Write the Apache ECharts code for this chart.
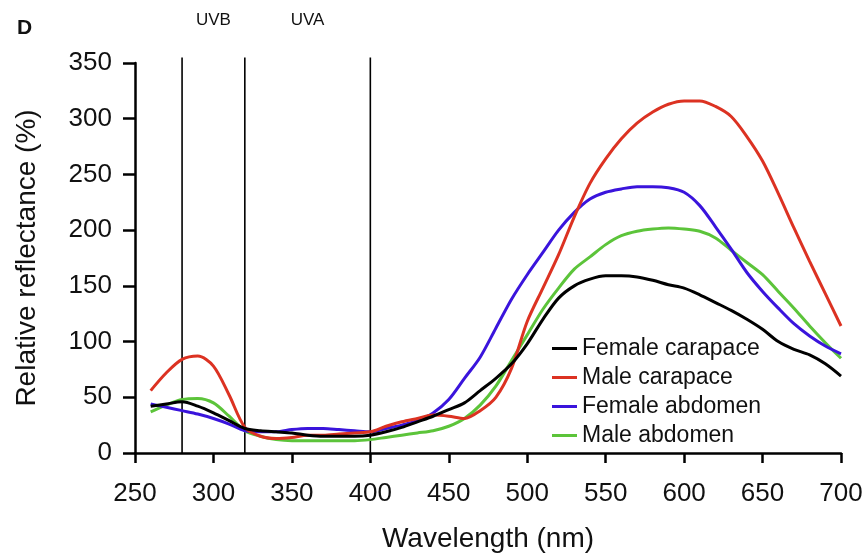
<!DOCTYPE html>
<html>
<head>
<meta charset="utf-8">
<script src="https://cdn.jsdelivr.net/npm/echarts@6/dist/echarts.min.js"></script>
<style>html,body{margin:0;padding:0;background:#fff;}#c{width:865px;height:553px;}</style>
</head>
<body>
<div id="c"></div>
<script>
const wavelengths = [260,270,280,290,300,310,320,330,340,350,360,370,380,390,400,410,420,430,440,450,460,470,480,490,500,510,520,530,540,550,560,570,580,590,600,610,620,630,640,650,660,670,680,690,700];
const femaleCarapace = [42,44,46,42,36,29,22,20,19,18,16,15,15,15,16,19,23,28,33,39,45,56,67,80,98,120,139,150,156,159,159,158,155,151,148,142,135,128,120,111,100,93,88,80,69];
const maleCarapace = [56,72,84,87,78,52,23,15,13,14,16,16,17,18,19,24,28,31,34,33,31,38,50,76,118,148,178,212,242,264,282,296,306,313,316,316,311,302,284,262,233,202,172,143,114];
const femaleAbdomen = [44,41,38,35,31,26,20,19,19,21,22,22,21,20,19,22,25,29,36,48,67,86,112,138,160,180,200,216,228,234,237,239,239,238,234,222,203,183,162,145,130,116,105,96,89];
const maleAbdomen = [37,43,48,49,45,33,20,15,12,11,11,11,11,11,12,14,16,18,20,24,31,43,60,83,106,129,148,165,176,187,195,199,201,202,201,199,193,182,171,160,145,130,114,99,85];
const seriesNames = ['Female carapace','Male carapace','Female abdomen','Male abdomen'];
const seriesColors = ['#000000','#dc3222','#3a14dc','#5cc43a'];
const uvBounds = [280,320,400];
const uvLabels = ['UVB','UVA'];
const xTicks = {min:250, max:700, interval:50};
const yTicks = {min:0, max:350, interval:50};
const lineTop = 355;

const allData = [femaleCarapace, maleCarapace, femaleAbdomen, maleAbdomen];
const font = '"Liberation Sans", Arial, Helvetica, sans-serif';

const chart = echarts.init(document.getElementById('c'));
const series = allData.map((vals, i) => ({
  name: seriesNames[i],
  type: 'line',
  data: wavelengths.map((w, j) => [w, vals[j]]),
  showSymbol: false,
  symbol: 'none',
  smooth: 0.3,
  clip: false,
  z: 3 + (4 - i),
  lineStyle: {color: seriesColors[i], width: 3},
  itemStyle: {color: seriesColors[i]}
}));
uvBounds.forEach(b => {
  series.push({
    type: 'line',
    data: [[b, yTicks.min], [b, lineTop]],
    showSymbol: false,
    symbol: 'none',
    clip: false,
    silent: true,
    z: 2,
    lineStyle: {color: '#000', width: 1.6}
  });
});

chart.setOption({
  animation: false,
  backgroundColor: '#fff',
  textStyle: {fontFamily: font},
  grid: {left: 135, right: 24, top: 63, bottom: 100, outerBoundsMode: 'none', containLabel: false},
  legend: {
    data: seriesNames,
    orient: 'vertical',
    left: 552,
    top: 337,
    padding: 0,
    icon: 'rect',
    itemWidth: 25,
    itemHeight: 3,
    itemGap: 6,
    textStyle: {fontSize: 23, color: '#111', fontFamily: font}
  },
  xAxis: {
    type: 'value',
    min: xTicks.min, max: xTicks.max, interval: xTicks.interval,
    name: 'Wavelength (nm)',
    nameLocation: 'middle',
    nameGap: 72,
    nameTextStyle: {fontSize: 28, color: '#111', fontFamily: font},
    axisLine: {show: true, lineStyle: {color: '#000', width: 2.5}},
    axisTick: {show: true, length: 10, lineStyle: {color: '#000', width: 2.5}},
    axisLabel: {fontSize: 26, color: '#111', margin: 28, fontFamily: font},
    splitLine: {show: false}
  },
  yAxis: {
    type: 'value',
    min: yTicks.min, max: yTicks.max, interval: yTicks.interval,
    name: 'Relative reflectance (%)',
    nameLocation: 'middle',
    nameGap: 94,
    nameRotate: 90,
    nameTextStyle: {fontSize: 28, color: '#111', fontFamily: font},
    axisLine: {show: true, lineStyle: {color: '#000', width: 2.5}},
    axisTick: {show: true, length: 12, lineStyle: {color: '#000', width: 2.5}},
    axisLabel: {fontSize: 26, color: '#111', margin: 23, fontFamily: font},
    splitLine: {show: false}
  },
  series: series
});

const mids = [(uvBounds[0] + uvBounds[1]) / 2, (uvBounds[1] + uvBounds[2]) / 2];
const gfx = [{
  type: 'text', x: 17, y: 18,
  style: {text: 'D', fontSize: 21, fontWeight: 'bold', fontFamily: font, fill: '#111'}
}];
mids.forEach((m, i) => {
  const px = chart.convertToPixel({xAxisIndex: 0}, m);
  gfx.push({
    type: 'text', x: px, y: 12,
    style: {text: uvLabels[i], fontSize: 17, fontFamily: font, fill: '#111', align: 'center', verticalAlign: 'top'}
  });
});
chart.setOption({graphic: gfx});
</script>
</body>
</html>
